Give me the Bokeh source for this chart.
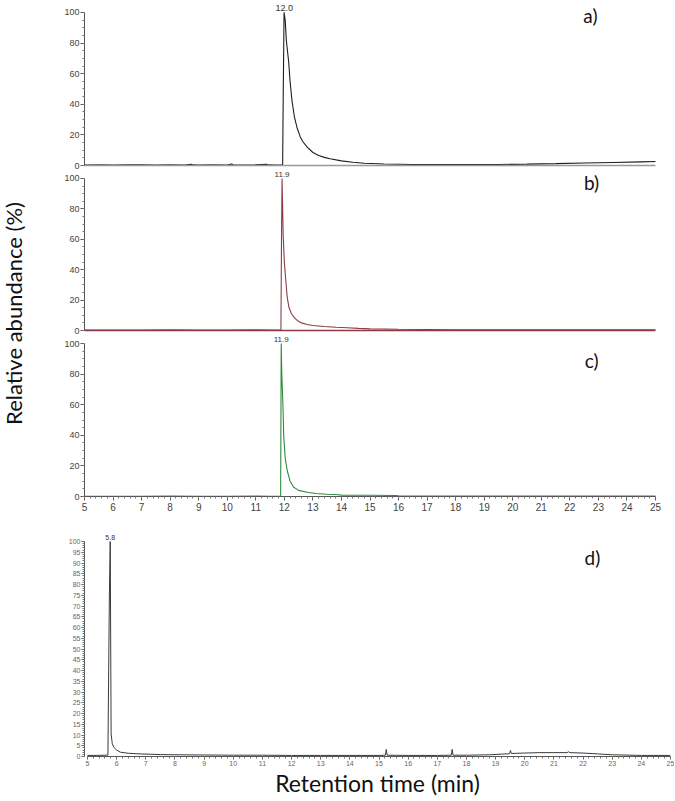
import numpy as np
from bokeh.plotting import figure
from bokeh.layouts import column, row
from bokeh.models import Range1d, SingleIntervalTicker, FixedTicker
from bokeh.embed import file_html
from bokeh.resources import INLINE
from bokeh.core.properties import value

# ---------------- data ----------------
time_a = [5.0, 5.5, 6.0, 6.5, 7.0, 7.5, 8.0, 8.5, 8.75, 8.8, 9.0, 9.5, 10.0, 10.15, 10.2, 10.5,
          11.0, 11.38, 11.42, 11.7, 11.94, 11.96, 11.99, 12.03, 12.07, 12.12, 12.15, 12.2, 12.27,
          12.35, 12.44, 12.55, 12.65, 12.8, 13.0, 13.2, 13.4, 13.6, 14.0, 14.4, 14.8, 15.5, 16.5,
          17.5, 18.5, 19.5, 20.5, 21.5, 22.5, 23.5, 24.5, 25.0]
abund_a = [0.3, 0.4, 0.3, 0.5, 0.4, 0.3, 0.4, 0.3, 0.8, 0.4, 0.3, 0.4, 0.3, 1.0, 0.5, 0.3,
           0.4, 0.8, 0.4, 0.3, 0.5, 45, 100, 94.8, 81.7, 73, 68, 55, 42,
           32, 25, 19, 15.5, 12, 8.5, 6.5, 5.3, 4.4, 3.0, 2.1, 1.5, 1.0, 0.7,
           0.6, 0.6, 0.7, 0.9, 1.2, 1.6, 2.0, 2.4, 2.6]

time_b = [5.0, 6.0, 7.0, 8.0, 9.0, 10.0, 11.0, 11.5, 11.88, 11.9, 11.92, 11.96, 12.0, 12.04,
          12.1, 12.16, 12.25, 12.35, 12.45, 12.6, 12.8, 13.0, 13.4, 13.8, 14.2, 14.6, 15.0,
          16.0, 18.0, 20.0, 22.0, 24.0, 25.0]
abund_b = [0.3, 0.3, 0.3, 0.4, 0.3, 0.3, 0.4, 0.3, 0.3, 60, 100, 62, 45, 35,
           22, 15.3, 11, 8.5, 6.6, 5.0, 4.0, 3.3, 2.6, 2.1, 1.8, 1.4, 1.1,
           0.8, 0.5, 0.5, 0.5, 0.5, 0.5]

time_c = [5.0, 6.0, 7.0, 8.0, 9.0, 10.0, 11.0, 11.5, 11.87, 11.89, 11.91, 11.95, 11.98, 12.03,
          12.1, 12.2, 12.33, 12.5, 12.8, 13.1, 13.5, 13.9, 14.0, 15.0, 15.9, 16.0, 17.0, 19.0,
          21.0, 23.0, 25.0]
abund_c = [0.2, 0.2, 0.2, 0.3, 0.2, 0.2, 0.3, 0.2, 0.2, 100, 80, 60, 38.8, 25,
           17, 10, 6, 4, 2.8, 2.0, 1.5, 1.1, 0.9, 0.8, 0.7, 0.4, 0.3, 0.3,
           0.3, 0.3, 0.3]

time_d = [5.0, 5.3, 5.6, 5.7, 5.72, 5.75, 5.78, 5.80, 5.81, 5.85, 5.9, 6.0, 6.13, 6.4, 6.8,
          7.5, 8.0, 9.0, 10.0, 11.0, 12.0, 13.0, 14.0, 15.0, 15.22, 15.25, 15.28, 16.0, 17.0,
          17.48, 17.51, 17.54, 18.0, 18.8, 19.2, 19.48, 19.51, 19.54, 20.0, 20.5, 21.0, 21.45,
          21.5, 21.55, 22.0, 22.5, 23.0, 24.0, 25.0]
abund_d = [0.5, 0.5, 0.6, 0.6, 30, 75, 100, 40, 10.5, 6, 4.3, 3.0, 2.0, 1.5, 1.2,
           0.9, 0.8, 0.7, 0.6, 0.6, 0.5, 0.5, 0.5, 0.5, 0.6, 3.3, 0.6, 0.5, 0.5,
           0.6, 3.3, 0.6, 0.6, 0.8, 1.1, 1.3, 2.8, 1.4, 1.6, 1.8, 1.8, 1.8,
           2.2, 1.8, 1.6, 1.2, 0.8, 0.5, 0.5]

peak_times = [12.0, 11.92, 11.89, 5.78]
peak_texts = ["12.0", "11.9", "11.9", "5.8"]
panel_labels = ["a)", "b)", "c)", "d)"]
line_colors = ["#1e1e1e", "#8c3b46", "#2f8a3c", "#3a3a3a"]

y_ticks_top = 20      # tick interval, panels a-c
y_ticks_bottom = 5    # tick interval, panel d
x_tick = 1
x_first, x_last = 5, 25

# ---------------- layout constants ----------------
COL_W = 644
LBL_W = 30
TOTAL_H = 800
TEXT_FONT = "Lato"
TICK_FONT = "Liberation Sans"
# panels a-c end at 25 min well before the right edge of the shared frame
XR_TOP = (5.0, 25.525)
XR_BOTTOM = (4.897, 25.0)


def base_fig(height, xr, y_end, mbt, mbb):
    p = figure(width=COL_W, height=height, x_range=Range1d(*xr), y_range=Range1d(0, y_end),
               output_backend="svg", toolbar_location=None,
               min_border_left=54, min_border_right=4, min_border_top=mbt, min_border_bottom=mbb)
    p.grid.visible = False
    p.outline_line_color = None
    p.background_fill_color = "white"
    p.border_fill_color = "white"
    return p


def style_y(p, interval, font_size, tick_out, minor_out, color):
    ax = p.yaxis[0]
    ax.ticker = SingleIntervalTicker(interval=interval, num_minor_ticks=4 if interval == 20 else 5)
    ax.bounds = (0, 100)
    ax.major_tick_in = 0
    ax.minor_tick_in = 0
    ax.major_tick_out = tick_out
    ax.minor_tick_out = minor_out
    ax.major_label_standoff = 1
    ax.major_label_text_font = TICK_FONT
    ax.major_label_text_font_size = font_size
    ax.major_label_text_color = color
    ax.axis_line_color = "#555555"
    ax.major_tick_line_color = "#555555"
    ax.minor_tick_line_color = "#777777"


def hide_x(p, color):
    ax = p.xaxis[0]
    ax.ticker = FixedTicker(ticks=[])
    ax.bounds = (x_first, x_last)
    ax.axis_line_color = color
    ax.axis_line_width = 1.5
    ax.major_label_text_font_size = "0px"
    ax.major_tick_out = 0
    ax.minor_tick_out = 0
    ax.major_label_standoff = 0


def style_x(p, font_size, tick_out, minor_out, color, standoff):
    ax = p.xaxis[0]
    ax.ticker = SingleIntervalTicker(interval=x_tick, num_minor_ticks=5)
    ax.bounds = (x_first, x_last)
    ax.major_tick_in = 0
    ax.minor_tick_in = 0
    ax.major_tick_out = tick_out
    ax.minor_tick_out = minor_out
    ax.major_label_standoff = standoff
    ax.major_label_text_font = TICK_FONT
    ax.major_label_text_font_size = font_size
    ax.major_label_text_color = color
    ax.axis_line_color = "#555555"
    ax.major_tick_line_color = "#555555"
    ax.minor_tick_line_color = "#777777"


def add_peak_label(p, t, txt, y, size):
    p.text(x=[t], y=[y], text=[txt], text_align="center", text_baseline="bottom",
           text_font=value(TICK_FONT), text_font_size=size, text_color="#333333")


def add_panel_label(p, x, y, txt):
    p.text(x=[x], y=[y], text=[txt], text_align="center", text_baseline="middle",
           text_font=value(TEXT_FONT), text_font_size="19px", text_color="#111111")


# panel a  (page rows 0-169)
pa = base_fig(169, XR_TOP, 107.8, 0, 4)
pa.line(time_a, abund_a, line_color=line_colors[0], line_width=1.1)
style_y(pa, y_ticks_top, "9px", 4, 2, "#444444")
hide_x(pa, "#999999")
add_peak_label(pa, peak_times[0], peak_texts[0], 101.0, "9px")
add_panel_label(pa, 22.72, 98.0, panel_labels[0])

# panel b  (page rows 169-334)
pb = base_fig(165, XR_TOP, 105.9, 0, 4)
pb.line(time_b, abund_b, line_color=line_colors[1], line_width=1.1)
style_y(pb, y_ticks_top, "9px", 4, 2, "#444444")
hide_x(pb, "#8c3b46")
add_peak_label(pb, peak_times[1], peak_texts[1], 100.8, "8px")
add_panel_label(pb, 22.76, 97.4, panel_labels[1])

# panel c  (page rows 334-518)
pc = base_fig(184, XR_TOP, 105.9, 0, 22)
pc.line(time_c, abund_c, line_color=line_colors[2], line_width=1.1)
style_y(pc, y_ticks_top, "9px", 4, 2, "#444444")
style_x(pc, "10px", 4, 2, "#444444", 2)
add_peak_label(pc, peak_times[2], peak_texts[2], 100.8, "8px")
add_panel_label(pc, 22.76, 89.0, panel_labels[2])

# panel d  (page rows 518-800)
pd_ = base_fig(282, XR_BOTTOM, 107.0, 8, 44)
pd_.line(time_d, abund_d, line_color=line_colors[3], line_width=1.0)
style_y(pd_, y_ticks_bottom, "7px", 3, 2, "#666666")
style_x(pd_, "7px", 3, 2, "#666666", 1)
pd_.xaxis[0].axis_label = "Retention time (min)"
pd_.xaxis[0].axis_label_text_font = TEXT_FONT
pd_.xaxis[0].axis_label_text_font_size = "23px"
pd_.xaxis[0].axis_label_text_font_style = "normal"
pd_.xaxis[0].axis_label_text_color = "#111111"
pd_.xaxis[0].axis_label_standoff = 0
add_peak_label(pd_, peak_times[3], peak_texts[3], 100.5, "7px")
add_panel_label(pd_, 22.32, 92.6, panel_labels[3])

# left label figure
pl = figure(width=LBL_W, height=TOTAL_H, x_range=Range1d(0, LBL_W), y_range=Range1d(0, TOTAL_H),
            output_backend="svg", toolbar_location=None, min_border=0)
pl.axis.visible = False
pl.grid.visible = False
pl.outline_line_color = None
pl.text(x=[13], y=[TOTAL_H - 313], text=["Relative abundance (%)"], angle=np.pi / 2,
        text_align="center", text_baseline="middle", text_font=value(TEXT_FONT),
        text_font_size="22px", text_color="#111111")

layout = row(pl, column(pa, pb, pc, pd_))

open("out.html", "w").write(file_html(layout, INLINE))
